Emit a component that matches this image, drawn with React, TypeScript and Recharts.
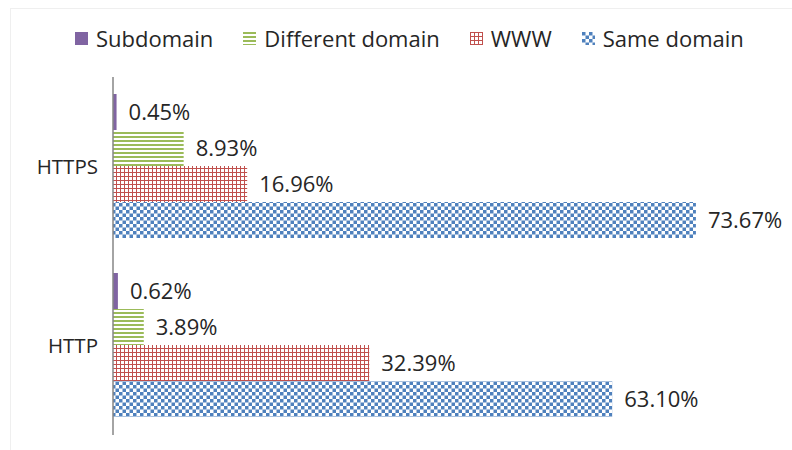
import React from "react";
import { BarChart, Bar, XAxis, YAxis, LabelList } from "recharts";

const categories = ["HTTPS", "HTTP"];
const subdomain = [0.45, 0.62];
const differentDomain = [8.93, 3.89];
const www = [16.96, 32.39];
const sameDomain = [73.67, 63.1];

const series = [
  { key: "subdomain", name: "Subdomain", fill: "#8064A2" },
  { key: "different", name: "Different domain", fill: "url(#stripes)" },
  { key: "www", name: "WWW", fill: "url(#grid)" },
  { key: "same", name: "Same domain", fill: "url(#checker)" },
];

const data = categories.map((name, i) => ({
  name,
  subdomain: subdomain[i],
  different: differentDomain[i],
  www: www[i],
  same: sameDomain[i],
}));

const FONT = "'Open Sans', 'Noto Sans', sans-serif";
const TEXT = "#262626";

function Patterns() {
  return (
    <defs>
      <pattern id="stripes" width="4" height="4" patternUnits="userSpaceOnUse">
        <rect width="4" height="4" fill="#fff" />
        <rect width="4" height="2" fill="#9BBB59" />
      </pattern>
      <pattern id="grid" width="4" height="4" patternUnits="userSpaceOnUse">
        <rect width="4" height="4" fill="#fff" />
        <rect width="4" height="1" fill="#C0504D" />
        <rect width="1" height="4" fill="#C0504D" />
      </pattern>
      <pattern id="checker" width="7" height="7" patternUnits="userSpaceOnUse">
        <rect width="7" height="7" fill="#fff" />
        <rect width="3.5" height="3.5" fill="#4F81BD" />
        <rect x="3.5" y="3.5" width="3.5" height="3.5" fill="#4F81BD" />
      </pattern>
    </defs>
  );
}

function LegendRow() {
  return (
    <div
      style={{
        position: "absolute",
        top: 24,
        left: 75,
        display: "flex",
        alignItems: "center",
        gap: 30,
        fontFamily: FONT,
        fontSize: 22,
        color: TEXT,
        lineHeight: "28px",
      }}
    >
      {series.map((s) => (
        <div key={s.key} style={{ display: "flex", alignItems: "center", gap: 8 }}>
          <svg width={13} height={13}>
            <Patterns />
            <rect width={13} height={13} fill={s.fill} />
          </svg>
          <span>{s.name}</span>
        </div>
      ))}
    </div>
  );
}

export default function App() {
  return (
    <div style={{ position: "absolute", left: 0, top: 0, width: 792, height: 450, background: "#fff" }}>
      <div
        style={{
          position: "absolute",
          left: 10,
          top: 8,
          width: 790,
          height: 450,
          borderLeft: "1px solid #efefef",
          borderTop: "1px solid #efefef",
        }}
      />
      <LegendRow />
      <div style={{ position: "absolute", left: 0, top: 0 }}>
        <BarChart
          width={792}
          height={450}
          data={data}
          layout="vertical"
          margin={{ top: 77, right: 46, bottom: 15, left: 0 }}
          barCategoryGap={17}
          barGap={0}
        >
          <Patterns />
          <XAxis type="number" domain={[0, 80]} hide />
          <YAxis
            type="category"
            dataKey="name"
            width={113}
            axisLine={{ stroke: "#868686", strokeWidth: 1.5 }}
            tickLine={false}
            tickSize={0}
            tickMargin={15}
            tick={{ fontFamily: FONT, fontSize: 20.5, fill: TEXT }}
          />
          {series.map((s) => (
            <Bar key={s.key} dataKey={s.key} name={s.name} fill={s.fill} isAnimationActive={false}>
              <LabelList
                dataKey={s.key}
                position="right"
                offset={12}
                formatter={(v: number) => `${v.toFixed(2)}%`}
                style={{ fontFamily: FONT, fontSize: 22, fill: TEXT }}
              />
            </Bar>
          ))}
        </BarChart>
      </div>
    </div>
  );
}
